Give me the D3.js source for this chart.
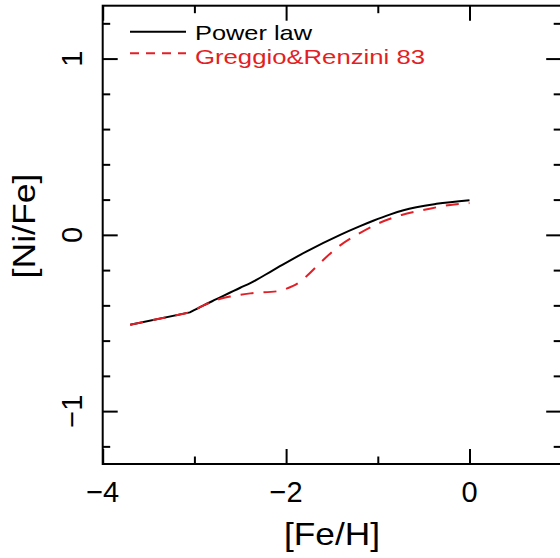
<!DOCTYPE html>
<html>
<head>
<meta charset="utf-8">
<script src="https://cdn.jsdelivr.net/npm/d3@7"></script>
<style>
  body { margin: 0; background: #fff; }
  text { font-family: "Liberation Sans", Arial, sans-serif; }
</style>
</head>
<body>
<script>
// [Fe/H] vs [Ni/Fe]
var powerFeH  = [-3.70, -3.05, -2.90, -2.76, -2.50, -2.39, -2.14, -1.78, -1.41, -1.20, -1.05, -0.87, -0.72, -0.36, 0.00];
var powerNiFe = [-0.51, -0.44, -0.40, -0.365, -0.300, -0.274, -0.200, -0.095, 0.000, 0.048, 0.080, 0.115, 0.140, 0.176, 0.197];

var grFeH  = [-3.70, -3.05, -2.90, -2.76, -2.61, -2.39, -2.07, -1.97, -1.90, -1.78, -1.63, -1.45, -1.23, -1.01, -0.74, -0.49, -0.21, 0.00];
var grNiFe = [-0.51, -0.44, -0.40, -0.37, -0.350, -0.332, -0.318, -0.300, -0.284, -0.236, -0.160, -0.075, 0.000, 0.061, 0.113, 0.142, 0.170, 0.180];

var xMajor = [-4, -2, 0];
var xMinor = [-3, -1, 1];
var yMajor = [-1, 0, 1];
var yMinor = [-1.2, -0.8, -0.6, -0.4, -0.2, 0.2, 0.4, 0.6, 0.8, 1.2];

var red = "#e21f26";

var svg = d3.select("body").append("svg")
    .attr("width", 560)
    .attr("height", 558);

var x = d3.scaleLinear().domain([-4, 1]).range([102.7, 561.2]);
var y = d3.scaleLinear().domain([-1.3, 1.3]).range([464, 5.7]);

// frame
svg.append("rect")
    .attr("x", x(-4)).attr("y", y(1.3))
    .attr("width", x(1) - x(-4)).attr("height", y(-1.3) - y(1.3))
    .attr("fill", "none").attr("stroke", "#000").attr("stroke-width", 2);

function ticks(axisFn, scale, vals, len, tr) {
    var g = svg.append("g").attr("transform", tr)
        .call(axisFn(scale).tickValues(vals).tickSize(-len).tickFormat(""));
    g.select(".domain").remove();
    g.selectAll("line").attr("stroke-width", 2);
    return g;
}

// inward ticks on all four sides
ticks(d3.axisBottom, x, xMajor, 15, "translate(0," + y(-1.3) + ")");
ticks(d3.axisBottom, x, xMinor, 7.5, "translate(0," + y(-1.3) + ")");
ticks(d3.axisTop, x, xMajor, 15, "translate(0," + y(1.3) + ")");
ticks(d3.axisTop, x, xMinor, 7.5, "translate(0," + y(1.3) + ")");
ticks(d3.axisLeft, y, yMajor, 15, "translate(" + x(-4) + ",0)");
ticks(d3.axisLeft, y, yMinor, 7.5, "translate(" + x(-4) + ",0)");
ticks(d3.axisRight, y, yMajor, 15, "translate(" + x(1) + ",0)");
ticks(d3.axisRight, y, yMinor, 7.5, "translate(" + x(1) + ",0)");

// tick labels
svg.selectAll(".xlab").data(xMajor).enter().append("text")
    .attr("x", function(d) { return x(d); })
    .attr("y", 502)
    .attr("text-anchor", "middle")
    .style("font-size", "29px")
    .text(function(d) { return d3.format("d")(d); });

svg.selectAll(".ylab").data(yMajor).enter().append("text")
    .attr("transform", function(d) { return "translate(82," + y(d) + ") rotate(-90)"; })
    .attr("text-anchor", "middle")
    .style("font-size", "29px")
    .text(function(d) { return d3.format("d")(d); });

// axis titles
svg.append("text")
    .attr("x", 332).attr("y", 545)
    .attr("text-anchor", "middle")
    .attr("textLength", 96).attr("lengthAdjust", "spacingAndGlyphs")
    .style("font-size", "32px")
    .text("[Fe/H]");

svg.append("text")
    .attr("transform", "translate(35,226) rotate(-90)")
    .attr("text-anchor", "middle")
    .attr("textLength", 105).attr("lengthAdjust", "spacingAndGlyphs")
    .style("font-size", "32px")
    .text("[Ni/Fe]");

// curves: straight first segment, kink at the second point, smooth after
var line = d3.line()
    .x(function(d) { return x(d[0]); })
    .y(function(d) { return y(d[1]); })
    .curve(d3.curveMonotoneX);

function curvePath(xs, ys) {
    var pts = d3.zip(xs, ys);
    return "M" + x(pts[0][0]) + "," + y(pts[0][1]) + "L" + line(pts.slice(1)).slice(1);
}

svg.append("path")
    .attr("d", curvePath(powerFeH, powerNiFe))
    .attr("fill", "none").attr("stroke", "#000").attr("stroke-width", 2);

svg.append("path")
    .attr("d", curvePath(grFeH, grNiFe))
    .attr("fill", "none").attr("stroke", red).attr("stroke-width", 2)
    .attr("stroke-dasharray", "13,10");

// legend
svg.append("line")
    .attr("x1", 130).attr("x2", 186).attr("y1", 31.7).attr("y2", 31.7)
    .attr("stroke", "#000").attr("stroke-width", 2);
svg.append("text")
    .attr("x", 195).attr("y", 39.5)
    .attr("textLength", 117).attr("lengthAdjust", "spacingAndGlyphs")
    .style("font-size", "21px")
    .text("Power law");

svg.append("line")
    .attr("x1", 130).attr("x2", 186).attr("y1", 53.3).attr("y2", 53.3)
    .attr("stroke", red).attr("stroke-width", 2)
    .attr("stroke-dasharray", "9,7");
svg.append("text")
    .attr("x", 195).attr("y", 63.5)
    .attr("textLength", 230).attr("lengthAdjust", "spacingAndGlyphs")
    .attr("fill", red)
    .style("font-size", "21px")
    .text("Greggio&Renzini 83");
</script>
</body>
</html>
